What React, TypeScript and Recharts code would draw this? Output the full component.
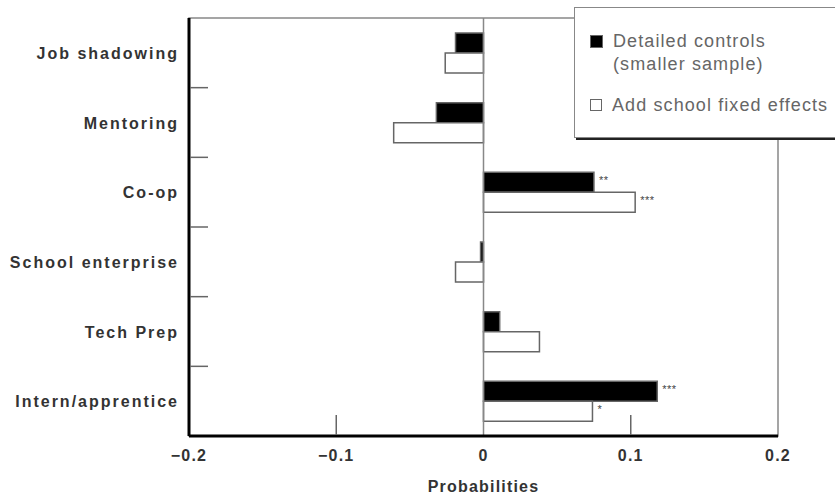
import React from "react";
import {
  Bar,
  BarChart,
  LabelList,
  Legend,
  ReferenceArea,
  ReferenceLine,
  XAxis,
  YAxis,
} from "recharts";

const categories = [
  "Job shadowing",
  "Mentoring",
  "Co-op",
  "School enterprise",
  "Tech Prep",
  "Intern/apprentice",
];
const detailedControls = [-0.019, -0.032, 0.075, -0.002, 0.011, 0.118];
const schoolFixedEffects = [-0.026, -0.061, 0.103, -0.019, 0.038, 0.074];
const detailedStars = ["", "", "**", "", "", "***"];
const schoolStars = ["", "", "***", "", "", "*"];
const xTicks = [-0.2, -0.1, 0, 0.1, 0.2];
const innerXTicks = [-0.1, 0.1];

const chartData = categories.map((name, i) => ({
  name,
  detailed: detailedControls[i],
  school: schoolFixedEffects[i],
  detailedStars: detailedStars[i],
  schoolStars: schoolStars[i],
}));

const LABEL_FONT = "'Liberation Sans', Arial, sans-serif";

// label at band centre, inward tick at the band's upper edge
function CategoryTick({ x, y, payload, index }: any) {
  const half = payload.offset || 0;
  return (
    <g>
      {index > 0 && (
        <line x1={x + 1} x2={x + 19} y1={y - half} y2={y - half} stroke="#666" strokeWidth={1.5} />
      )}
      <text
        x={x - 10}
        y={y}
        dy={6}
        textAnchor="end"
        fontFamily={LABEL_FONT}
        fontSize={16}
        fontWeight="bold"
        letterSpacing={2}
        fill="#333"
      >
        {payload.value}
      </text>
    </g>
  );
}

function ValueTick({ x, y, payload }: any) {
  const label = payload.value === 0 ? "0" : String(payload.value).replace("-", "\u2212");
  return (
    <g>
      {innerXTicks.includes(payload.value) && (
        <line x1={x} x2={x} y1={y - 1} y2={y - 21} stroke="#666" strokeWidth={1.5} />
      )}
      <text
        x={x}
        y={y}
        dy={25}
        textAnchor="middle"
        fontFamily={LABEL_FONT}
        fontSize={16}
        fontWeight="bold"
        letterSpacing={1.2}
        fill="#333"
      >
        {label}
      </text>
    </g>
  );
}

function StarLabel({ x, y, width, height, value }: any) {
  if (!value) {
    return null;
  }
  return (
    <text
      x={x + width + 5}
      y={y + height / 2}
      dy={2}
      fontFamily={LABEL_FONT}
      fontSize={11}
      fill="#444"
      letterSpacing={0.5}
    >
      {value}
    </text>
  );
}

function LegendBox() {
  const textStyle: React.CSSProperties = {
    fontFamily: LABEL_FONT,
    fontSize: 18,
    color: "#666",
    lineHeight: "23px",
    letterSpacing: 1.1,
  };
  return (
    <div
      style={{
        width: 270,
        height: 131,
        boxSizing: "border-box",
        border: "1px solid #888",
        boxShadow: "2px 2px 0 #222",
        background: "#fff",
        padding: "22px 0 0 15px",
      }}
    >
      <div style={{ display: "flex", alignItems: "flex-start" }}>
        <span
          style={{
            display: "inline-block",
            width: 11,
            height: 11,
            background: "#000",
            border: "1px solid #666",
            marginTop: 5,
            marginRight: 10,
          }}
        />
        <span style={textStyle}>
          Detailed controls
          <br />
          (smaller sample)
        </span>
      </div>
      <div style={{ display: "flex", alignItems: "flex-start", marginTop: 18 }}>
        <span
          style={{
            display: "inline-block",
            width: 10,
            height: 10,
            background: "#fff",
            border: "1px solid #666",
            marginTop: 5,
            marginRight: 10,
          }}
        />
        <span style={{ ...textStyle, whiteSpace: "nowrap" }}>Add school fixed effects</span>
      </div>
    </div>
  );
}

export default function App() {
  return (
    <div style={{ position: "absolute", left: 0, top: 0, width: 835, height: 495, overflow: "hidden", background: "#fff" }}>
      <BarChart
        width={835}
        height={495}
        data={chartData}
        layout="vertical"
        margin={{ top: 18, right: 57, bottom: 0, left: 8 }}
        barGap={0}
        barCategoryGap="22%"
      >
        <ReferenceArea
          yAxisId="cat"
          x1={-0.2}
          x2={0.2}
          fill="none"
          fillOpacity={0}
          stroke="#888"
          strokeWidth={1.5}
        />
        <ReferenceLine yAxisId="cat" x={0} stroke="#888" strokeWidth={1.5} />
        <XAxis
          type="number"
          domain={[-0.2, 0.2]}
          ticks={xTicks}
          allowDataOverflow
          height={59}
          tickLine={false}
          tickSize={0}
          tickMargin={0}
          axisLine={{ stroke: "#000", strokeWidth: 3 }}
          tick={<ValueTick />}
          label={{
            value: "Probabilities",
            position: "insideBottom",
            offset: 3,
            style: { fontFamily: LABEL_FONT, fontSize: 16, fontWeight: "bold", letterSpacing: 1.2, fill: "#333" },
          }}
        />
        <YAxis
          yAxisId="cat"
          type="category"
          dataKey="name"
          orientation="left"
          width={181}
          interval={0}
          tickLine={false}
          tickSize={0}
          tickMargin={0}
          axisLine={{ stroke: "#000", strokeWidth: 3 }}
          tick={<CategoryTick />}
        />
        <Bar yAxisId="cat" dataKey="detailed" fill="#000" stroke="#666" strokeWidth={1.5} barSize={20} isAnimationActive={false}>
          <LabelList dataKey="detailedStars" content={<StarLabel />} />
        </Bar>
        <Bar yAxisId="cat" dataKey="school" fill="#fff" stroke="#666" strokeWidth={1.5} barSize={20} isAnimationActive={false}>
          <LabelList dataKey="schoolStars" content={<StarLabel />} />
        </Bar>
        <Legend
          layout="vertical"
          align="center"
          verticalAlign="middle"
          wrapperStyle={{ position: "absolute", top: 7, left: 574, width: 270 }}
          content={<LegendBox />}
        />
      </BarChart>
    </div>
  );
}
